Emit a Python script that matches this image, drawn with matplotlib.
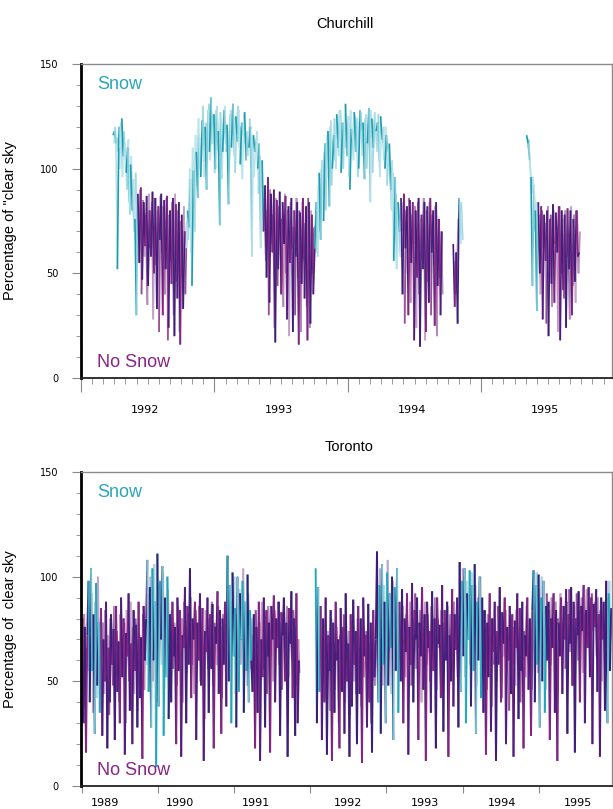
import numpy as np
import matplotlib
matplotlib.use('Agg')
import matplotlib.pyplot as plt
from matplotlib.collections import LineCollection
from matplotlib.ticker import MultipleLocator

# ---- Churchill: % of "clear sky", two interleaved readings, every 4 days ----
ch_step = 4
ch_starts = [1992.24, 1994.79, 1995.34]
ch_a = [116, 118, 112, 52, 120, 110, 124, 106, 112, 98, 110, 84, 102, 80, 95, 76, 30,
        88, 55, 91, 47, 84, 63, 87, 44, 80, 58, 89, 50, 86, 33, 82, 66, 88, 30, 85, 52,
        87, 24, 80, 45, 86, 20, 83, 38, 84, 16, 78, 33, 70,
        62, 80, 72, 95, 44, 99, 70, 108, 86, 115, 96, 123, 104, 120, 90, 128, 108, 134,
        112, 126, 100, 130, 118, 73, 124, 108, 128, 112, 121, 83, 126, 110, 131, 106, 125,
        113, 128, 102, 122, 116, 127, 104, 118, 110, 120, 58, 116, 108, 114, 100, 112, 62, 104,
        70, 92, 48, 96, 36, 88, 60, 90, 17, 85, 52, 89, 40, 84, 64, 87, 28, 82, 55, 86,
        22, 80, 58, 84, 16, 79, 45, 86, 38, 82, 18, 84, 26, 78, 40,
        62, 84, 58, 98, 66, 104, 75, 112, 96, 118, 82, 123, 100, 116, 104, 126, 110, 128,
        98, 122, 112, 131, 106, 125, 90, 119, 114, 127, 108, 124, 100, 128, 116, 122, 95,
        126, 112, 129, 84, 124, 110, 127, 118, 122, 104, 125, 114, 120, 100, 116, 108, 112,
        90, 104, 56, 96, 52, 84, 70,
        86, 40, 88, 62, 82, 30, 85, 55, 84, 18, 80, 48, 86, 15, 78, 52, 84, 22, 82, 36,
        86, 60, 80, 25, 84, 44, 76, 30, 70]
ch_b = [64, 34, 60, 26, 86, 64, 80]
ch_c = [116, 112, 104, 96, 44, 92, 80, 32,
        84, 50, 82, 28, 78, 56, 80, 20, 76, 45, 83, 36, 79, 60, 82, 18, 80, 42, 78, 24,
        81, 52, 80, 30, 76, 46, 80, 58, 60]
# second reading, 2 days later
ch_a2 = [112, 120, 108, 115, 100, 122, 96, 118, 104, 90, 114, 78, 106, 86, 70, 98, 62,
         70, 90, 40, 85, 58, 78, 35, 88, 62, 84, 28, 86, 54, 80, 22, 87, 60, 82, 40, 86,
         18, 78, 56, 84, 30, 88, 46, 80, 22, 75, 48, 82, 40,
         75, 66, 100, 60, 110, 82, 116, 92, 124, 100, 112, 130, 96, 122, 110, 131, 104, 120,
         126, 98, 128, 114, 106, 127, 95, 120, 130, 108, 118, 100, 128, 116, 124, 98, 122,
         130, 110, 120, 95, 126, 112, 118, 106, 124, 100, 115, 96, 110, 118, 88, 106, 70, 92,
         86, 56, 80, 30, 90, 64, 78, 24, 86, 44, 82, 70, 76, 34, 88, 50, 80, 20, 84, 62,
         72, 30, 86, 48, 80, 22, 84, 56, 74, 34, 86, 24, 80, 50, 72,
         72, 60, 92, 70, 100, 88, 108, 80, 116, 104, 120, 92, 114, 124, 100, 120, 106, 128,
         115, 100, 126, 110, 122, 96, 128, 118, 104, 125, 112, 96, 122, 127, 106, 118, 124,
         100, 120, 110, 128, 98, 116, 122, 108, 126, 96, 118, 112, 104, 120, 92, 110, 100,
         80, 98, 66, 88, 60, 78, 58,
         70, 84, 26, 80, 50, 86, 36, 78, 64, 82, 24, 84, 40, 76, 58, 86, 18, 80, 46, 84,
         30, 78, 54, 82, 20, 76, 48, 70, 40]
ch_b2 = [56, 40, 52, 76, 70, 84, 66]
ch_c2 = [110, 114, 100, 88, 96, 70, 84, 60,
         78, 40, 80, 62, 74, 26, 82, 48, 78, 34, 80, 64, 72, 22, 82, 50, 76, 38, 80, 58,
         70, 28, 82, 44, 78, 36, 80, 50, 70]
ch_snow_start = [1992.2, 1992.785, 1993.75, 1994.83, 1995.3]
ch_snow_end = [1992.425, 1993.367, 1994.397, 1994.9, 1995.425]
ch_years = [1992, 1993, 1994, 1995]

# ---- Toronto: two interleaved readings, every 6 days ----
to_step = 6
to_starts = [1988.99, 1992.07]
to_a = [60, 80, 30, 76, 16, 72,
        98, 40, 104, 55, 82, 25, 97, 48, 78, 35,
        85, 24, 70, 50, 88, 18, 66, 40, 82, 58, 75, 22, 86, 45, 69, 30, 90, 52, 80, 15,
        73, 62, 92, 36, 68, 20, 84, 55, 77, 28, 88, 42, 71, 13, 86, 60, 80,
        108, 45, 95, 28, 104, 60, 88, 9, 111, 38, 98, 70, 105, 24, 90, 52, 100, 32,
        82, 40, 88, 62, 76, 20, 90, 55, 84, 14, 72, 66, 95, 30, 86, 58, 104, 42, 80, 70,
        88, 22, 78, 60, 92, 48, 85, 12, 74, 64, 90, 35, 82, 56, 87, 18, 76, 68, 93, 44,
        84, 25, 80, 58, 88, 38,
        110, 50, 96, 30, 102, 62, 85, 28, 100, 45, 92, 70, 98, 35, 88, 55, 101, 40, 84, 60,
        45, 82, 18, 76, 35, 88, 12, 70, 52, 90, 28, 84, 62, 78, 16, 86, 70, 91, 40, 80,
        66, 88, 24, 83, 72, 90, 50, 78, 14, 85, 68, 93, 42, 80, 24, 92, 30, 60]
to_b = [104, 30, 95, 45,
        86, 22, 80, 40, 90, 15, 72, 55, 84, 12, 78, 35, 88, 60, 70, 18, 85, 45, 76, 25,
        92, 50, 68, 14, 82, 38, 89, 58, 74, 20, 86, 44, 80, 11, 90, 62, 72, 28, 87, 40,
        78, 16, 84, 52, 70,
        112, 40, 96, 25, 106, 58, 88, 30, 102, 48, 92, 66, 100, 22, 95, 55, 104, 35,
        88, 50, 94, 30, 80, 64, 92, 15, 76, 58, 97, 40, 84, 70, 90, 22, 78, 62, 95, 46,
        82, 12, 88, 66, 74, 35, 93, 55, 80, 18, 90, 68, 77, 42, 96, 26, 84, 60, 88, 14,
        72, 50, 94, 38, 82, 65, 90, 28,
        107, 45, 98, 62, 104, 30, 92, 70, 103, 38, 96, 55, 106, 25, 88, 60, 100, 42, 90,
        35, 84, 15, 78, 52, 92, 26, 80, 64, 88, 12, 74, 58, 95, 40, 83, 68, 90, 20, 76,
        60, 86, 44, 82, 14, 79, 66, 92, 32, 85, 55, 88, 18, 72, 62, 90, 46, 80, 24, 84,
        103, 40, 96, 58, 101, 28, 90, 50, 98, 35, 86,
        60, 88, 22, 80, 66, 92, 35, 84, 12, 78, 62, 90, 44, 86, 70, 94, 25, 82, 68, 95,
        48, 88, 16, 80, 72, 93, 40, 86, 74, 96, 30, 84, 66, 95, 52, 90, 20, 87, 76, 94,
        45, 82, 14, 90, 70, 88, 36,
        98, 30, 92, 55, 85]
# second reading, 3 days later
to_a2 = [70, 45, 82, 38, 66, 55,
         86, 60, 92, 35, 74, 88, 42, 100, 58, 80,
         62, 78, 44, 84, 56, 72, 34, 80, 64, 48, 86, 52, 74, 60, 40, 82, 66, 56, 78, 30,
         84, 70, 50, 88, 58, 76, 44, 80, 62, 36, 72, 66, 54, 82, 46, 74, 58,
         92, 60, 100, 74, 50, 106, 66, 84, 40, 96, 78, 58, 102, 46, 86, 70, 94, 62,
         70, 84, 56, 78, 66, 48, 86, 72, 60, 80, 40, 88, 74, 54, 82, 66, 90, 58, 76, 44,
         84, 70, 62, 86, 50, 78, 68, 32, 84, 74, 56, 80, 64, 88, 48, 78, 70, 58, 86, 62,
         76, 42, 82, 70, 60, 84,
         96, 70, 54, 88, 76, 100, 44, 82, 66, 94, 58, 78, 104, 62, 84, 48, 92, 72, 56, 80,
         72, 58, 84, 66, 48, 78, 70, 88, 56, 74, 82, 44, 86, 76, 62, 80, 50, 84, 72, 66,
         88, 58, 78, 46, 82, 74, 64, 86, 52, 80, 70, 60, 84, 68, 76, 48, 70, 54]
to_b2 = [80, 55, 72, 64,
         66, 50, 78, 58, 42, 74, 62, 36, 80, 54, 68, 46, 76, 60, 30, 72, 58, 48, 82, 40,
         66, 56, 74, 34, 78, 62, 50, 70, 44, 80, 58, 66, 38, 76, 52, 60, 74, 42, 68, 56,
         30, 78, 60, 48, 66,
         90, 62, 104, 70, 48, 96, 80, 60, 108, 66, 84, 44, 98, 74, 56, 90, 68, 82,
         74, 62, 86, 70, 52, 82, 76, 60, 88, 48, 80, 68, 92, 56, 78, 66, 84, 40, 76, 70,
         88, 58, 82, 64, 50, 86, 72, 60, 90, 46, 80, 66, 74, 84, 54, 78, 70, 62, 86, 44,
         82, 72, 58, 88, 66, 76, 52, 70,
         94, 66, 104, 78, 52, 98, 72, 88, 58, 102, 80, 64, 96, 48, 90, 74, 100, 62, 84,
         60, 76, 46, 82, 64, 70, 38, 80, 58, 74, 50, 86, 66, 72, 42, 78, 62, 84, 54, 68,
         36, 80, 70, 58, 76, 48, 84, 64, 72, 40, 82, 60, 74, 52, 86, 66, 56, 78, 46, 70,
         96, 70, 102, 54, 88, 76, 100, 62, 84, 46, 92,
         72, 84, 58, 90, 76, 66, 88, 50, 80, 74, 92, 62, 78, 86, 56, 88, 70, 94, 64, 80,
         48, 86, 76, 92, 60, 84, 72, 90, 54, 82, 78, 94, 66, 86, 58, 92, 74, 80, 88, 62,
         90, 70, 84, 50, 80, 76, 66,
         90, 62, 98, 70, 80]
to_snow_start = [1989.08, 1989.85, 1990.9, 1992.0, 1992.87, 1993.955, 1994.92, 1995.88]
to_snow_end = [1989.24, 1990.15, 1991.24, 1992.125, 1993.165, 1994.26, 1995.10, 1996.0]
to_years = [1989, 1990, 1991, 1992, 1993, 1994, 1995]
to_label_pos = [1989.30, 1990.29, 1991.28, 1992.49, 1993.50, 1994.51, 1995.51]

dry_dark = ['#3e1f78', '#8a2484', '#4b1f80']
dry_light = ['#c6a2ca', '#9a4d98', '#b48cba']
ch_snow_dark = ['#1b9db1', '#7fcbd7', '#b9e3ea']
ch_snow_light = ['#bfe5ec', '#9fd8e2']
to_snow_dark = ['#22a6b9', '#3a1d78', '#6fc4d1']
to_snow_light = ['#a9dde5', '#c6a2ca']
grey = '#8a8a8a'
sans = ['Liberation Sans', 'DejaVu Sans']


def draw(ax, starts, pieces, step, offset, s0, s1, dry_pal, snow_pal, lw):
    for start, vals in zip(starts, pieces):
        y = np.array(vals, float)
        x = start + (np.arange(len(y)) * step + offset) / 365.0
        snow = np.zeros(len(x), bool)
        for a, b in zip(s0, s1):
            snow |= (x >= a) & (x < b)
        pts = np.column_stack([x, y])
        segs = np.stack([pts[:-1], pts[1:]], axis=1)
        cols = []
        for i in range(len(segs)):
            pal = snow_pal if snow[i] else dry_pal
            cols.append(pal[i % len(pal)])
        ax.add_collection(LineCollection(segs, colors=cols, linewidths=lw))


def style(ax, ylabel):
    ax.set_ylim(0, 150)
    ax.set_yticks([0, 50, 100, 150])
    ax.yaxis.set_minor_locator(MultipleLocator(10))
    ax.tick_params(axis='y', which='major', length=6.5, color=grey, labelsize=7, pad=10)
    ax.tick_params(axis='y', which='minor', length=3.6, color=grey)
    ax.spines['left'].set_linewidth(2.0)
    ax.spines['left'].set_color('black')
    ax.spines['bottom'].set_linewidth(1.3)
    ax.spines['bottom'].set_color('#222222')
    for s in ['top', 'right']:
        ax.spines[s].set_color(grey)
        ax.spines[s].set_linewidth(1.0)
    ax.set_ylabel(ylabel, fontsize=10.5, family=sans)
    ax.yaxis.set_label_coords(-0.12, 0.5)
    ax.text(0.03, 0.935, 'Snow', transform=ax.transAxes, color='#2aa6b9',
            fontsize=13, family=sans, va='center')
    ax.text(0.03, 0.05, 'No Snow', transform=ax.transAxes, color='#8a2484',
            fontsize=13, family=sans, va='center')


fig = plt.figure(figsize=(6.13, 8.09), dpi=100)
ax1 = fig.add_axes([81 / 613, 431 / 809, 531 / 613, 314 / 809])
ax2 = fig.add_axes([81 / 613, 23 / 809, 531 / 613, 314 / 809])

# Churchill
draw(ax1, ch_starts, [ch_a2, ch_b2, ch_c2], ch_step, 2, ch_snow_start, ch_snow_end,
     dry_light, ch_snow_light, 1.2)
draw(ax1, ch_starts, [ch_a, ch_b, ch_c], ch_step, 0, ch_snow_start, ch_snow_end,
     dry_dark, ch_snow_dark, 1.2)
ax1.set_xlim(1992, 1995.98)
ax1.set_xticks(ch_years)
ax1.set_xticklabels([])
ax1.xaxis.set_minor_locator(MultipleLocator(1 / 12))
ax1.tick_params(axis='x', which='major', length=10, color=grey)
ax1.tick_params(axis='x', which='minor', length=4, color=grey)
for yr in ch_years:
    ax1.text(yr + 0.48, -0.102, str(yr), transform=ax1.get_xaxis_transform(),
             ha='center', va='center', fontsize=8)
style(ax1, 'Percentage of "clear sky')
fig.text(345 / 613, 1 - 24 / 809, 'Churchill', ha='center', va='center',
         fontsize=10.5, family=sans)

# Toronto
draw(ax2, to_starts, [to_a2, to_b2], to_step, 3, to_snow_start, to_snow_end,
     dry_light, to_snow_light, 1.4)
draw(ax2, to_starts, [to_a, to_b], to_step, 0, to_snow_start, to_snow_end,
     dry_dark, to_snow_dark, 1.4)
ax2.set_xlim(1988.99, 1995.96)
ax2.set_xticks(to_years)
ax2.set_xticklabels([])
ax2.tick_params(axis='x', which='major', length=5, color=grey)
for yr, pos in zip(to_years, to_label_pos):
    ax2.text(pos, -0.054, str(yr), transform=ax2.get_xaxis_transform(),
             ha='center', va='center', fontsize=8)
style(ax2, 'Percentage of  clear sky')
fig.text(349 / 613, 1 - 447 / 809, 'Toronto', ha='center', va='center',
         fontsize=10.5, family=sans)

fig.savefig('out.png', dpi=100, facecolor='white')
